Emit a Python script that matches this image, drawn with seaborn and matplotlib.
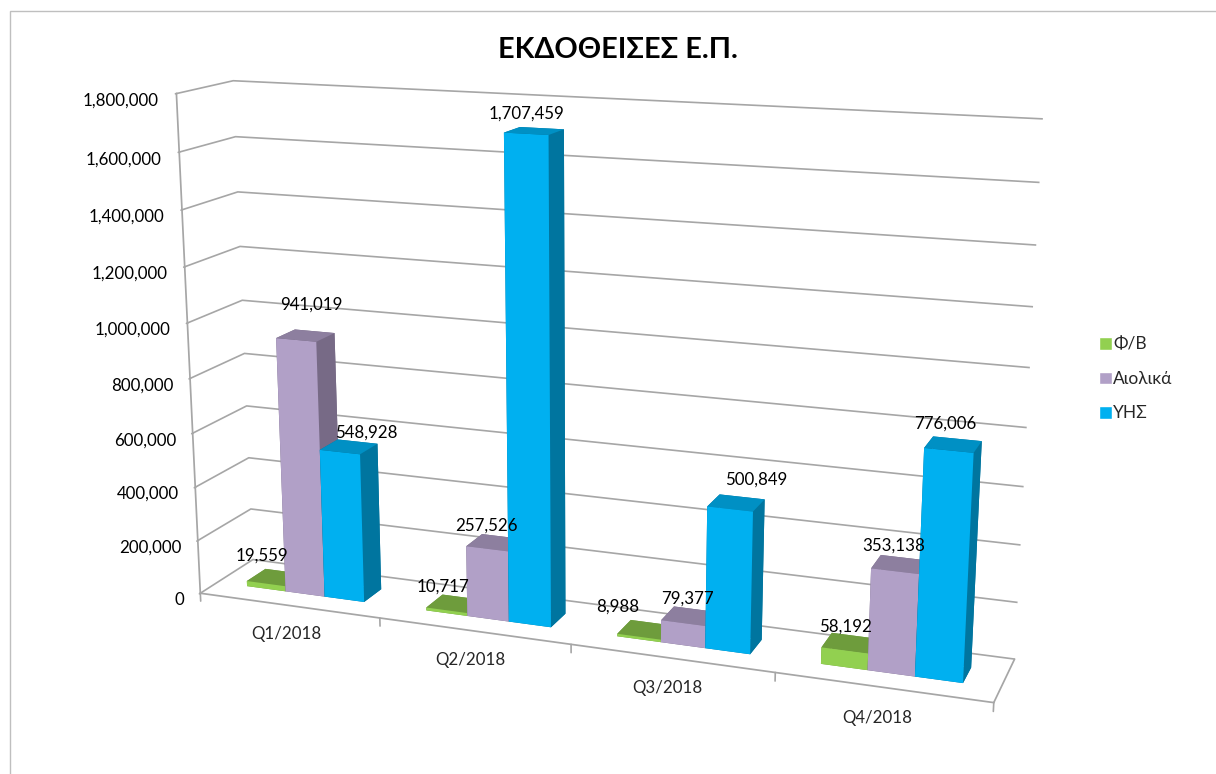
import matplotlib
matplotlib.use("Agg")
import matplotlib.pyplot as plt
from matplotlib.patches import Patch, Rectangle
from matplotlib.ticker import FuncFormatter
import seaborn as sns

quarters = ["Q1/2018", "Q2/2018", "Q3/2018", "Q4/2018"]
series = ["Φ/Β", "Αιολικά", "ΥΗΣ"]
fv = [19559, 10717, 8988, 58192]
aiolika = [941019, 257526, 79377, 353138]
yhs = [548928, 1707459, 500849, 776006]
values = [fv, aiolika, yhs]

front = ["#92D050", "#B1A0C7", "#00B0F0"]
top = ["#6E9C3C", "#8D7F9F", "#0090C4"]
side = ["#6E9C3C", "#776A86", "#00759F"]
line_col = "#A6A6A6"

# labels sit where excel dropped them, not always over the bar centre
label_dx = [[-0.02, -0.02, -0.11, 0.0], [0.09, 0.0, 0.02, -0.01], [0.15, 0.0, 0.12, -0.02]]
label_dz = [[105000, 85000, 100000, 85000], [130000, 85000, 90000, 85000], [80000, 65000, 110000, 85000]]

sns.set_theme(style="white")
plt.rcParams["font.family"] = ["Lato", "Noto Sans", "DejaVu Sans"]

fig = plt.figure(figsize=(12.16, 7.74), dpi=100)
# 3d axes stay square, so make it wide enough that nothing is clipped
ax = fig.add_axes([-0.0275, -0.289, 1.0, 1.571], projection="3d", computed_zorder=False)
ax.set_proj_type("persp", focal_length=0.33)
ax.view_init(elev=14.5, azim=-69.7)
ax.set_box_aspect((4.05, 0.55, 2.55), zoom=0.808)

ax.set_xlim(0, 4)
ax.set_ylim(0, 1)
ax.set_zlim(0, 1800000)
ax.set_xticks([])
ax.set_yticks([])
ax.set_zticks(range(0, 1800001, 200000))
ax.zaxis.set_major_formatter(FuncFormatter(lambda v, p: f"{int(v):,}"))
ax.zaxis.set_ticks_position("lower")
ax.tick_params(axis="z", labelsize=12.2, pad=2, color=line_col, labelcolor="black")
plt.setp(ax.get_zticklabels(), ha="right")
ax.grid(True)
for a in (ax.xaxis, ax.yaxis, ax.zaxis):
    a.pane.set_facecolor((1, 1, 1, 0))
    a.pane.set_edgecolor((1, 1, 1, 0))
    a.line.set_color(line_col)
    a._axinfo["grid"]["color"] = line_col
    a._axinfo["grid"]["linewidth"] = 1.2
    a._axinfo["tick"]["color"] = line_col

# bars drawn left to right, the camera sits on the right
bar_w = 0.22
depth = 0.36
order = 10
for i, q in enumerate(quarters):
    for j, vals in enumerate(values):
        x0 = i + 0.17 + j * bar_w
        # face order of bar3d: bottom, top, -y, +y, -x, +x
        cols = [side[j], top[j], front[j], side[j], side[j], side[j]]
        ax.bar3d(x0, 0.32, 0, bar_w, depth, vals[i], color=cols, shade=False,
                 linewidth=0, edgecolor="none", zorder=order)
        order += 1
        ax.text(x0 + bar_w / 2 + label_dx[j][i], 0.32, vals[i] + label_dz[j][i], f"{vals[i]:,}",
                fontsize=12.2, ha="center", va="center", color="black", zorder=100)
    ax.text(i + 0.48, 0, -110000, q, fontsize=12.2, ha="center", va="center", color="#262626", zorder=100)
for i in range(len(quarters) + 1):
    ax.plot([i, i], [0, 0], [0, -30000], color=line_col, lw=1.2, zorder=1)

fig.text(618 / 1216, 1 - 50 / 774, "ΕΚΔΟΘΕΙΣΕΣ Ε.Π.", fontsize=20.7, fontweight="bold",
         ha="center", va="center", color="black")
handles = [Patch(facecolor=c, label=s) for c, s in zip(front, series)]
fig.legend(handles=handles, loc="center left", bbox_to_anchor=(1083 / 1216, 1 - 379 / 774),
           frameon=False, fontsize=12.5, handlelength=0.75, handleheight=0.75, labelspacing=1.05,
           handletextpad=0.1)
fig.add_artist(Rectangle((10 / 1216, -0.1), 1.2, 0.1 + 1 - 11 / 774, transform=fig.transFigure,
                         fill=False, edgecolor="#BFBFBF", lw=1))

fig.savefig("out.png", dpi=100)
